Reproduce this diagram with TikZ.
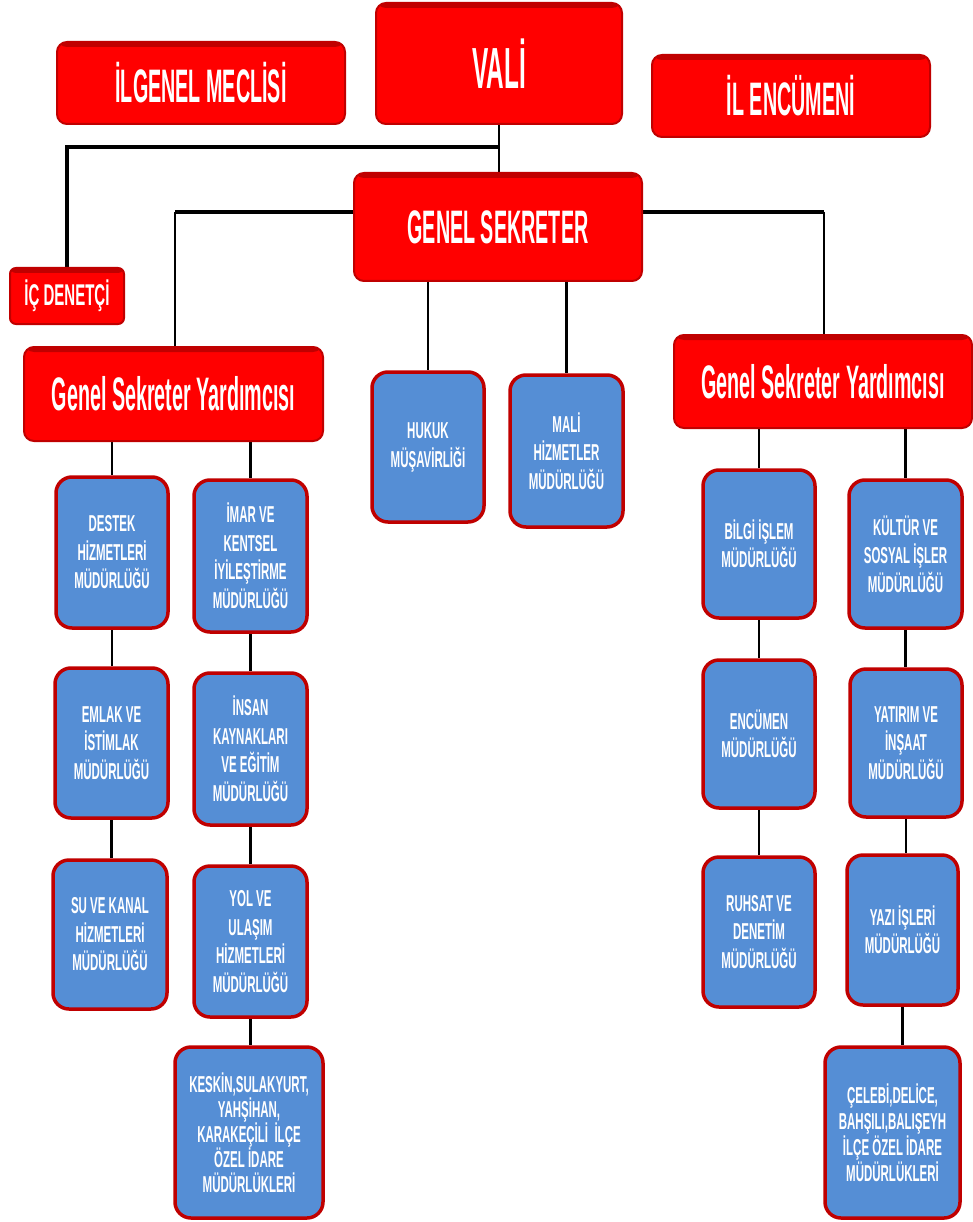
\documentclass[tikz,border=0pt]{standalone}
\usepackage{fontspec}
\newfontfamily\cf[FakeStretch=0.42]{Liberation Sans}
\newfontfamily\cfb[FakeStretch=0.5]{Liberation Sans}
\usetikzlibrary{backgrounds}
\definecolor{rfill}{HTML}{FF0000}
\definecolor{rdraw}{HTML}{C00000}
\definecolor{bfill}{HTML}{558ED5}
\definecolor{bdraw}{HTML}{C00000}
\tikzset{
  redbox/.style={draw=rdraw, fill=rfill, line width=2pt, rounded corners=10pt,
    text=white, inner sep=0pt, align=center,
    path picture={\fill[rdraw] ([yshift=2pt]path picture bounding box.north west) rectangle ([yshift=-5pt]path picture bounding box.north east);}},
  bluebox/.style={draw=bdraw, fill=bfill, line width=3.5pt, rounded corners=16pt,
    text=white, inner sep=0pt, align=center,
    font=\cfb\bfseries\fontsize{23}{28.5}\selectfont},
  conn/.style={line width=2.5pt, black},
  hconn/.style={line width=4pt, black},
}
\begin{document}
\begin{tikzpicture}[x=1pt,y=-1pt]
\useasboundingbox (0,0) rectangle (972,1222);

% top level
\node[redbox, minimum width=246pt, minimum height=121pt, font=\cf\bfseries\fontsize{58}{60}\selectfont] (vali) at (499,63.5) {VALİ};
\node[redbox, minimum width=288pt, minimum height=82pt, font=\cf\bfseries\fontsize{47}{50}\selectfont] (meclis) at (201,83) {İLGENEL MECLİSİ};
\node[redbox, minimum width=278pt, minimum height=82pt, font=\cf\bfseries\fontsize{47}{50}\selectfont] (ilenc) at (791,96) {İL ENCÜMENİ};
\node[redbox, minimum width=288pt, minimum height=108pt, font=\cf\bfseries\fontsize{47}{50}\selectfont] (gs) at (498,227) {GENEL SEKRETER};
\node[redbox, minimum width=114pt, minimum height=56pt, rounded corners=6pt, font=\cfb\bfseries\fontsize{30}{32}\selectfont] (icd) at (67,296) {İÇ DENETÇİ};
\node[redbox, minimum width=299pt, minimum height=94pt, font=\cf\bfseries\fontsize{47}{50}\selectfont] (gsyL) at (173.5,394) {Genel Sekreter Yardımcısı};
\node[redbox, minimum width=298pt, minimum height=93pt, font=\cf\bfseries\fontsize{47}{50}\selectfont] (gsyR) at (823,381.5) {Genel Sekreter Yardımcısı};

% middle
\node[bluebox, minimum width=112pt, minimum height=150pt] (hukuk) at (428,447) {\raisebox{7pt}{\begin{tabular}{@{}c@{}}HUKUK\\MÜŞAVİRLİĞİ\end{tabular}}};
\node[bluebox, minimum width=113pt, minimum height=152pt] (mali) at (566.5,451) {MALİ\\HİZMETLER\\MÜDÜRLÜĞÜ};

% left columns
\node[bluebox, minimum width=112pt, minimum height=151pt] (destek) at (112,552.5) {DESTEK\\HİZMETLERİ\\MÜDÜRLÜĞÜ};
\node[bluebox, minimum width=113pt, minimum height=150pt] (emlak) at (111.5,743) {EMLAK VE\\İSTİMLAK\\MÜDÜRLÜĞÜ};
\node[bluebox, minimum width=114pt, minimum height=149pt] (su) at (110,934.5) {SU VE KANAL\\HİZMETLERİ\\MÜDÜRLÜĞÜ};
\node[bluebox, minimum width=113pt, minimum height=152pt] (imar) at (250.5,556) {İMAR VE\\KENTSEL\\İYİLEŞTİRME\\MÜDÜRLÜĞÜ};
\node[bluebox, minimum width=113pt, minimum height=152pt] (insan) at (250.5,749) {İNSAN\\KAYNAKLARI\\VE EĞİTİM\\MÜDÜRLÜĞÜ};
\node[bluebox, minimum width=113pt, minimum height=151pt] (yol) at (250.5,941.5) {YOL VE\\ULAŞIM\\HİZMETLERİ\\MÜDÜRLÜĞÜ};
\node[bluebox, minimum width=148pt, minimum height=171pt, font=\cfb\bfseries\fontsize{23}{25}\selectfont] (keskin) at (249,1132.5) {KESKİN,SULAKYURT,\\YAHŞİHAN,\\KARAKEÇİLİ\ \ İLÇE\\ÖZEL İDARE\\MÜDÜRLÜKLERİ};

% right columns
\node[bluebox, minimum width=112pt, minimum height=148pt] (bilgi) at (759,544) {BİLGİ İŞLEM\\MÜDÜRLÜĞÜ};
\node[bluebox, minimum width=112pt, minimum height=148pt] (encm) at (759,734) {ENCÜMEN\\MÜDÜRLÜĞÜ};
\node[bluebox, minimum width=112pt, minimum height=150pt] (ruhsat) at (759,932) {RUHSAT VE\\DENETİM\\MÜDÜRLÜĞÜ};
\node[bluebox, minimum width=113pt, minimum height=148pt] (kultur) at (905.5,554) {KÜLTÜR VE\\SOSYAL İŞLER\\MÜDÜRLÜĞÜ};
\node[bluebox, minimum width=112pt, minimum height=148pt] (yatirim) at (906,743) {YATIRIM VE\\İNŞAAT\\MÜDÜRLÜĞÜ};
\node[bluebox, minimum width=111pt, minimum height=150pt] (yazi) at (902.5,930) {YAZI İŞLERİ\\MÜDÜRLÜĞÜ};
\node[bluebox, minimum width=135pt, minimum height=171pt, font=\cfb\bfseries\fontsize{23}{26}\selectfont] (celebi) at (892.5,1132.5) {ÇELEBİ,DELİCE,\\BAHŞILI,BALIŞEYH\\İLÇE ÖZEL İDARE\\MÜDÜRLÜKLERİ};

\coordinate (j1) at (498,147);
\coordinate (jL) at (175,212);
\coordinate (jR) at (824,212);

\begin{pgfonlayer}{background}
\fill[white] (0,0) rectangle (972,1222);
\draw[conn] (vali.south) -- (vali.south |- gs.north);
\draw[hconn] (j1) -| (icd.north);
\draw[hconn] (gs.west |- jL) -- (jL);
\draw[conn] (jL) -- (jL |- gsyL.north);
\draw[hconn] (gs.east |- jR) -- (jR);
\draw[conn] (jR) -- (jR |- gsyR.north);
\draw[conn] (hukuk.north |- gs.south) -- (hukuk.north);
\draw[conn] (mali.north |- gs.south) -- (mali.north);
\draw[conn] (destek.north |- gsyL.south) -- (destek.north);
\draw[conn] (imar.north |- gsyL.south) -- (imar.north);
\draw[conn] (destek.south) -- (destek.south |- emlak.north);
\draw[conn] (emlak.south) -- (emlak.south |- su.north);
\draw[conn] (imar.south) -- (imar.south |- insan.north);
\draw[conn] (insan.south) -- (insan.south |- yol.north);
\draw[conn] (yol.south) -- (yol.south |- keskin.north);
\draw[conn] (bilgi.north |- gsyR.south) -- (bilgi.north);
\draw[conn] (kultur.north |- gsyR.south) -- (kultur.north);
\draw[conn] (bilgi.south) -- (bilgi.south |- encm.north);
\draw[conn] (encm.south) -- (encm.south |- ruhsat.north);
\draw[conn] (kultur.south) -- (kultur.south |- yatirim.north);
\draw[conn] (yatirim.south) -- (yatirim.south |- yazi.north);
\draw[conn] (yazi.south) -- (yazi.south |- celebi.north);
\end{pgfonlayer}
\end{tikzpicture}
\end{document}
